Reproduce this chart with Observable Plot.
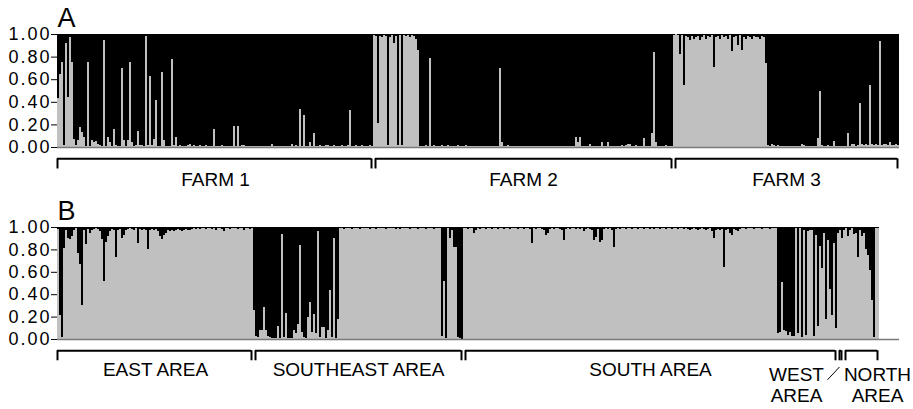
<!DOCTYPE html>
<html><head><meta charset="utf-8">
<script src="https://cdn.jsdelivr.net/npm/d3@7"></script>
<script src="https://cdn.jsdelivr.net/npm/@observablehq/plot@0.6"></script>
<style>
html,body{margin:0;padding:0;background:#fff;}
#chart{width:913px;height:409px;overflow:hidden;}
#chart svg{display:block;}
</style></head><body><div id="chart"></div>
<script>
// ---- tick labels / names ----
const yTicks = [0, 0.2, 0.4, 0.6, 0.8, 1.0];
const panelLetters = ["A", "B"];
const farmNames = ["FARM 1", "FARM 2", "FARM 3"];
const areaNames = ["EAST AREA", "SOUTHEAST AREA", "SOUTH AREA", "WEST\nAREA", "NORTH\nAREA"];

// ---- Panel A: membership (light grey cluster) per individual ----
const farm1 = [0.43,0.65,0.75,0.02,0.92,0.44,0.97,0.75,0.07,0.02,
 0.06,0.18,0.13,0.09,0.01,0.75,0.01,0.06,0.04,0.05,
 0.03,0.02,0.01,0.95,0.01,0.09,0.04,0.01,0.16,0.02,
 0.01,0.01,0.70,0.06,0.01,0.06,0.75,0.04,0.01,0.02,
 0.14,0.02,0.02,0.01,0.98,0.02,0.63,0.02,0.07,0.42,
 0.01,0.01,0.66,0.06,0.01,0.01,0.01,0.78,0.02,0.09,
 0.01,0.02,0.01,0.01,0.01,0.02,0.03,0.01,0.02,0.01,
 0.01,0.02,0.01,0.01,0.02,0.01,0.01,0.01,0.16,0.01,
 0.01,0.01,0.02,0.01,0.01,0.01,0.01,0.01,0.19,0.01,
 0.19,0.01,0.02,0.02,0.01,0.01,0.01,0.01,0.01,0.01,
 0.01,0.01,0.01,0.01,0.01,0.01,0.01,0.03,0.01,0.01,
 0.01,0.01,0.01,0.01,0.01,0.01,0.01,0.03,0.01,0.02,
 0.01,0.34,0.01,0.28,0.01,0.01,0.04,0.01,0.12,0.01,
 0.01,0.02,0.01,0.01,0.02,0.02,0.01,0.01,0.02,0.01,
 0.01,0.01,0.02,0.01,0.01,0.02,0.33,0.01,0.01,0.02,
 0.01,0.01,0.02,0.01,0.01,0.01,0.02,0.01];
const farm2 = [0.99,0.98,0.21,0.98,0.97,0.99,0.98,0.02,0.97,0.99,
 0.92,0.98,0.02,0.99,0.02,0.99,0.98,0.99,0.97,0.99,
 0.98,0.96,0.86,0.01,0.01,0.01,0.02,0.01,0.79,0.01,
 0.02,0.01,0.01,0.01,0.02,0.01,0.01,0.02,0.01,0.01,
 0.01,0.01,0.02,0.01,0.01,0.01,0.02,0.01,0.01,0.01,
 0.01,0.01,0.01,0.01,0.01,0.01,0.01,0.01,0.01,0.01,
 0.01,0.01,0.01,0.70,0.04,0.01,0.01,0.02,0.01,0.01,
 0.01,0.01,0.01,0.01,0.01,0.01,0.01,0.01,0.01,0.01,
 0.01,0.01,0.01,0.01,0.01,0.01,0.01,0.01,0.01,0.01,
 0.01,0.01,0.01,0.01,0.01,0.01,0.01,0.01,0.01,0.01,
 0.01,0.09,0.04,0.09,0.01,0.01,0.01,0.01,0.03,0.01,
 0.01,0.01,0.01,0.01,0.04,0.01,0.01,0.04,0.01,0.01,
 0.01,0.01,0.01,0.01,0.02,0.01,0.02,0.03,0.03,0.01,
 0.01,0.02,0.01,0.01,0.01,0.08,0.01,0.01,0.01,0.12,
 0.84,0.04,0.01,0.01,0.01,0.01,0.02,0.01,0.01,0.01];
const farm3 = [0.99,1.00,0.99,0.82,0.99,0.55,0.98,0.97,0.95,0.98,
 0.96,0.97,0.98,0.95,0.97,0.99,0.96,0.98,0.97,0.99,
 0.71,0.97,0.98,0.96,0.99,0.97,0.98,0.96,0.99,0.85,
 0.97,0.98,0.90,0.99,0.86,0.97,0.96,0.98,0.97,0.96,
 0.98,0.97,0.97,0.96,0.98,0.97,0.74,0.02,0.01,0.03,
 0.02,0.01,0.02,0.01,0.01,0.01,0.01,0.01,0.01,0.01,
 0.01,0.01,0.01,0.01,0.03,0.02,0.01,0.01,0.01,0.01,
 0.01,0.01,0.08,0.50,0.02,0.01,0.01,0.02,0.01,0.01,
 0.05,0.01,0.01,0.01,0.01,0.01,0.01,0.12,0.01,0.03,
 0.03,0.01,0.02,0.39,0.03,0.02,0.03,0.02,0.55,0.03,
 0.02,0.03,0.02,0.94,0.02,0.03,0.03,0.02,0.04,0.02,
 0.02,0.03,0.02];

// ---- Panel B ----
const eastArea = [0.98,0.21,0.02,0.81,0.97,0.90,0.89,0.92,0.97,0.99,
 0.77,0.67,0.30,0.97,0.85,0.98,0.95,0.97,0.98,0.99,
 0.98,0.96,0.89,0.52,0.87,0.92,0.96,0.98,0.97,0.73,
 0.97,0.98,0.90,0.93,0.97,0.98,0.99,0.98,0.97,0.99,
 0.86,0.98,0.97,0.98,0.97,0.80,0.97,0.98,0.97,0.98,
 0.96,0.92,0.89,0.93,0.95,0.97,0.96,0.97,0.96,0.97,
 0.98,0.97,0.96,0.97,0.98,0.97,0.97,0.98,0.99,0.98,
 0.99,0.98,0.99,0.99,0.98,0.99,0.99,0.98,0.99,0.97,
 0.99,0.99,0.98,0.96,0.99,0.99,0.98,0.99,0.99,0.99,
 0.98,0.99,0.99,0.97,0.99,0.99,0.98,0.99];
const southeastArea = [0.26,0.03,0.02,0.08,0.08,0.29,0.08,0.03,0.02,0.01,
 0.01,0.01,0.12,0.01,0.94,0.02,0.23,0.01,0.01,0.01,
 0.08,0.05,0.13,0.84,0.06,0.02,0.01,0.20,0.33,0.06,
 0.22,0.05,0.96,0.02,0.11,0.11,0.01,0.08,0.44,0.02,
 0.90,0.01,0.18,0.99,0.99,0.98,0.99,0.99,0.99,0.98,
 0.99,0.99,0.99,0.98,0.99,0.99,0.99,0.99,0.98,0.99,
 0.99,0.98,0.99,0.99,0.99,0.99,0.98,0.99,0.99,0.99,
 0.99,0.98,0.99,0.98,0.99,0.99,0.99,0.99,0.98,0.99,
 0.99,0.99,0.98,0.99,0.99,0.99,0.98,0.99,0.99,0.99,
 0.98,0.99,0.99,0.99,0.03,0.52,0.01,0.99,0.90,0.97,
 0.82,0.82,0.02,0.01,0.00];
const southArea = [0.99,0.99,0.98,0.99,0.99,0.95,0.97,0.99,0.98,0.99,
 0.99,0.98,0.99,0.99,0.98,0.99,0.99,0.98,0.99,0.99,
 0.98,0.99,0.99,0.98,0.99,0.99,0.99,0.98,0.99,0.99,
 0.98,0.99,0.99,0.98,0.86,0.99,0.98,0.99,0.99,0.98,
 0.97,0.93,0.95,0.98,0.99,0.98,0.99,0.99,0.98,0.97,
 0.88,0.98,0.99,0.98,0.99,0.99,0.98,0.99,0.98,0.99,
 0.96,0.98,0.99,0.98,0.97,0.88,0.91,0.98,0.87,0.88,
 0.98,0.99,0.98,0.99,0.97,0.82,0.98,0.99,0.98,0.99,
 0.99,0.98,0.99,0.99,0.98,0.99,0.99,0.98,0.99,0.99,
 0.98,0.99,0.99,0.98,0.99,0.98,0.99,0.99,0.98,0.99,
 0.99,0.98,0.99,0.99,0.98,0.99,0.99,0.98,0.99,0.99,
 0.98,0.99,0.98,0.97,0.98,0.99,0.98,0.97,0.98,0.99,
 0.98,0.97,0.98,0.99,0.96,0.90,0.97,0.98,0.97,0.98,
 0.64,0.97,0.98,0.95,0.93,0.98,0.97,0.96,0.98,0.99,
 0.99,0.98,0.99,0.99,0.99,0.98,0.99,0.99,0.99,0.98,
 0.99,0.99,0.99,0.98,0.99,0.99,0.99,0.05,0.06,0.51,
 0.08,0.07,0.04,0.06,0.03,0.03,0.99,0.05,0.99,0.02,
 0.97,0.04,0.96,0.97,0.97,0.03,0.93,0.12,0.83,0.63,
 0.95,0.18,0.88,0.45,0.21,0.86,0.10];
const westArea = [0.95,0.97,0.90];
const northArea = [0.97,0.99,0.92,0.97,0.99,0.94,0.95,0.73,0.97,0.92,0.95,0.80,0.75,0.62,0.35,0.02,0.99,0.99];

// ---- build tables ----
function build(names, lists) {
  const rows = [], groups = [];
  let i = 0;
  lists.forEach((vals, g) => {
    const start = i;
    vals.forEach(q => rows.push({i: i++, q}));
    groups.push({name: names[g], start, end: i, lines: names[g].split("\n").length});
  });
  groups.forEach((g, k) => { g.a = g.start + (k === 0 ? 0 : 1); g.b = g.end - 1; });
  return {rows, groups};
}
const A = build(farmNames, [farm1, farm2, farm3]);
const B = build(areaNames, [eastArea, southeastArea, southArea, westArea, northArea]);
const N = A.rows.length;

const GREY = "#c0c0c0";
const FONT = "'Liberation Sans', Arial, Helvetica, sans-serif";

function panel(letter, data, height, marginTop, marginBottom, labelY, extra) {
  const ends = data.groups.flatMap(g => [g.a, g.b]);
  const single = data.groups.filter(g => g.lines === 1);
  const svg = Plot.plot({
    width: 913, height, marginLeft: 57, marginRight: 14, marginTop, marginBottom,
    style: {fontFamily: FONT, fontSize: "18px", color: "black", background: "white"},
    x: {domain: [0, N], axis: null},
    y: {domain: [0, 1], ticks: yTicks, tickFormat: d3.format(".2f"), tickSize: 6, tickPadding: 0, label: null},
    marks: [
      Plot.rect(data.rows, {x1: "i", x2: d => d.i + 1, y1: 0, y2: "q", fill: GREY, shapeRendering: "crispEdges"}),
      Plot.rect(data.rows, {x1: "i", x2: d => d.i + 1, y1: "q", y2: 1, fill: "black", shapeRendering: "crispEdges"}),
      Plot.ruleY([0], {x1: 0, x2: N, stroke: "#7a7a7a", strokeWidth: 1.3}),
      Plot.ruleY(data.groups, {y: () => -0.1, x1: "a", x2: "b", stroke: "black", strokeWidth: 2}),
      Plot.ruleX(ends, {x: d => d, y1: -0.1, y2: -0.19, stroke: "black", strokeWidth: 2}),
      Plot.text(single, {x: d => (d.start + d.end) / 2, y: () => labelY, text: "name", fontSize: 19}),
      Plot.text([letter], {x: 0, y: 1.14, text: d => d, textAnchor: "start", fontSize: 27}),
      ...extra(data)
    ]
  });
  svg.querySelectorAll('g[aria-label="y-axis tick label"] text').forEach(t => t.style.letterSpacing = "2px");
  return svg;
}

const root = document.getElementById("chart");
root.appendChild(panel(panelLetters[0], A, 195, 34, 48, -0.29, () => []));
root.appendChild(panel(panelLetters[1], B, 214, 32, 70, -0.275, data => {
  const west = data.groups[3], north = data.groups[4];
  return [
    Plot.text([west], {x: d => (d.start + d.end) / 2, y: () => -0.405, text: "name", fontSize: 19, lineHeight: 1.12, dx: -44}),
    Plot.text([north], {x: d => (d.start + d.end) / 2, y: () => -0.405, text: "name", fontSize: 19, lineHeight: 1.12, dx: 16}),
    Plot.link([west], {x1: d => d.start - 5, y1: () => -0.36, x2: d => d.start + 1, y2: () => -0.245, stroke: "black", strokeWidth: 1})
  ];
}));
</script></body></html>
